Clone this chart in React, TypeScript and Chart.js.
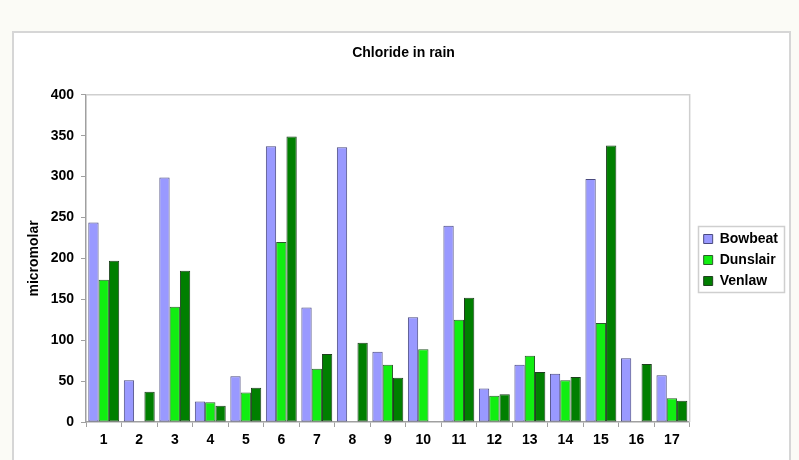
import React, { useEffect, useRef } from "react";
import { Chart, registerables } from "chart.js";

Chart.register(...registerables);

const categories = ["1", "2", "3", "4", "5", "6", "7", "8", "9", "10", "11", "12", "13", "14", "15", "16", "17"];
const bowbeat = [244, 51, 299, 25, 56, 337, 140, 336, 86, 128, 240, 41, 70, 59, 297, 78, 57];
const dunslair = [174, null, 141, 24, 36, 220, 65, null, 70, 89, 125, 32, 81, 51, 121, null, 29];
const venlaw = [197, 37, 185, 20, 42, 349, 83, 97, 54, null, 152, 34, 61, 55, 338, 71, 26];
const seriesNames = ["Bowbeat", "Dunslair", "Venlaw"];
const titleText = "Chloride in rain";
const yTitle = "micromolar";

const FONT = "'Liberation Sans', Arial, sans-serif";

const framePlugin = {
  id: "frame",
  afterLayout(chart: any) {
    const lg = chart.legend;
    if (lg) {
      lg.left += 7;
      lg.right += 7;
      lg.top += 32;
      lg.bottom += 32;
    }
  },
  afterDraw(chart: any) {
    const ctx = chart.ctx;
    const a = chart.chartArea;
    ctx.save();
    ctx.strokeStyle = "#cfcfcf";
    ctx.lineWidth = 1.5;
    ctx.beginPath();
    ctx.moveTo(a.left, a.top);
    ctx.lineTo(a.right, a.top);
    ctx.lineTo(a.right, a.bottom);
    ctx.stroke();
    const lg = chart.legend;
    if (lg && lg.legendHitBoxes && lg.legendHitBoxes.length) {
      let l = Infinity, t = Infinity, r = -Infinity, b = -Infinity;
      for (const h of lg.legendHitBoxes) {
        l = Math.min(l, h.left);
        t = Math.min(t, h.top);
        r = Math.max(r, h.left + h.width);
        b = Math.max(b, h.top + h.height);
      }
      ctx.strokeStyle = "#cfcfcf";
      ctx.lineWidth = 1.5;
      ctx.strokeRect(Math.round(l - 6) + 0.5, Math.round(t - 6) + 0.5, Math.round(r - l + 12), Math.round(b - t + 10));
    }
    ctx.restore();
  },
};

export default function App() {
  const ref = useRef<HTMLCanvasElement | null>(null);
  useEffect(() => {
    if (!ref.current) return;
    const chart = new Chart(ref.current, {
      type: "bar",
      data: {
        labels: categories,
        datasets: [
          { label: seriesNames[0], data: bowbeat, backgroundColor: "#9999ff", borderColor: "#4a4a80", borderWidth: 1, borderSkipped: false },
          { label: seriesNames[1], data: dunslair, backgroundColor: "#11ee11", borderColor: "#2a5a2a", borderWidth: 1, borderSkipped: false },
          { label: seriesNames[2], data: venlaw, backgroundColor: "#007f00", borderColor: "#1f3f1f", borderWidth: 1, borderSkipped: false },
        ] as any,
      },
      options: {
        animation: false,
        responsive: false,
        maintainAspectRatio: false,
        layout: { padding: { left: 26, right: 18, top: 0, bottom: 4 } },
        datasets: { bar: { categoryPercentage: 0.87, barPercentage: 1.0 } } as any,
        plugins: {
          title: {
            display: true,
            text: titleText,
            color: "#000",
            font: { family: FONT, size: 14, weight: "bold" },
            padding: { top: 45, bottom: 33 },
          },
          legend: {
            position: "right",
            labels: {
              color: "#000",
              font: { family: FONT, size: 14, weight: "bold" },
              boxWidth: 9,
              boxHeight: 9,
              padding: 7,
            },
          },
          tooltip: { enabled: false },
        },
        scales: {
          x: {
            grid: { drawOnChartArea: false, tickLength: 5, color: "#a0a0a0", offset: true },
            border: { color: "#a0a0a0", width: 1.5 },
            ticks: { color: "#000", font: { family: FONT, size: 14, weight: "bold" }, padding: 5, maxRotation: 0 },
            afterFit: (s: any) => { s.height = 34; },
          },
          y: {
            min: 0,
            max: 400,
            grid: { drawOnChartArea: false, tickLength: 5, color: "#a0a0a0" },
            border: { color: "#a0a0a0", width: 1.5 },
            ticks: { stepSize: 50, color: "#000", font: { family: FONT, size: 14, weight: "bold" }, padding: 7 },
            title: { display: true, text: yTitle, color: "#000", font: { family: FONT, size: 14, weight: "bold" }, padding: 0 },
            afterFit: (s: any) => { s.width = 60; },
          },
        },
      },
      plugins: [framePlugin],
    });
    return () => chart.destroy();
  }, []);

  return (
    <div style={{ position: "fixed", left: 0, top: 0, width: 799, height: 460, background: "#fbfbf6", overflow: "hidden" }}>
      <div style={{ position: "absolute", left: 12, top: 31, width: 775, height: 460, border: "2px solid #d6d6d6", background: "#ffffff" }} />
      <canvas ref={ref} width={799} height={460} style={{ position: "absolute", left: 0, top: 0, width: 799, height: 460 }} />
    </div>
  );
}
